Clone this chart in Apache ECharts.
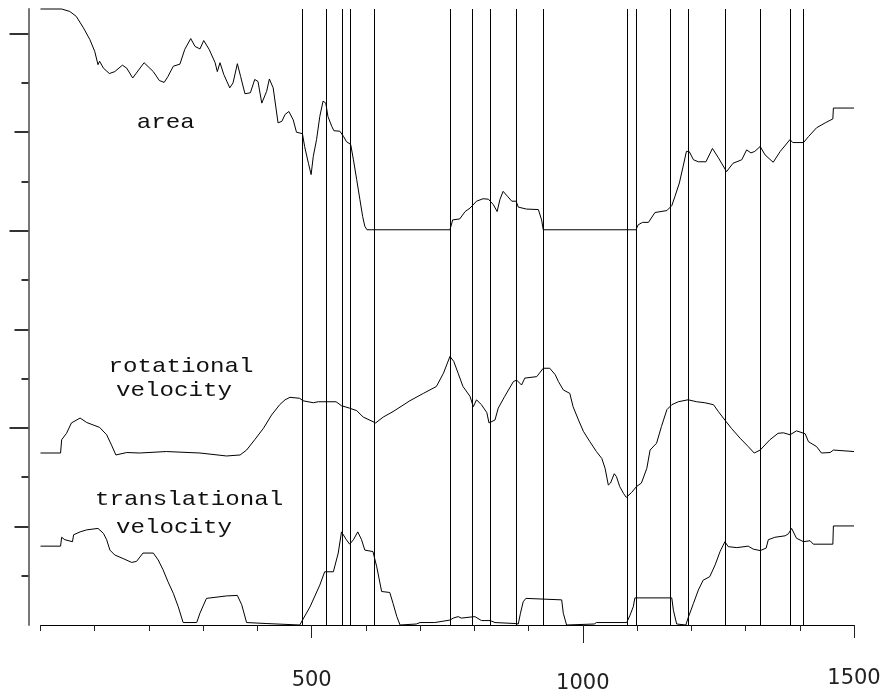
<!DOCTYPE html>
<html>
<head>
<meta charset="utf-8">
<script src="https://cdn.jsdelivr.net/npm/echarts@6.0.0/dist/echarts.min.js"></script>
<style>
    html, body { margin: 0; padding: 0; background: #fff; }
    #main { width: 881px; height: 694px; }
</style>
</head>
<body>
<div id="main"></div>
<script>
// traces, [frame, value]
var areaData = [
    [0, 12.5], [39, 12.5], [54, 12.45], [66, 12.35], [79, 12.12], [91, 11.88], [100, 11.64],
    [106, 11.37], [109, 11.44], [116, 11.30], [127, 11.19], [137, 11.23], [151, 11.36], [159, 11.30],
    [170, 11.10], [191, 11.41], [208, 11.23], [219, 11.05], [228, 11.01], [235, 11.13], [245, 11.34],
    [257, 11.38], [266, 11.68], [277, 11.90], [285, 11.74], [294, 11.69], [301, 11.86], [311, 11.68],
    [322, 11.41], [326, 11.23], [331, 11.41], [338, 11.17], [349, 10.90], [355, 11.00], [363, 11.39],
    [369, 11.13], [377, 10.78], [387, 10.80], [395, 11.07], [401, 11.03], [408, 10.59], [417, 10.83],
    [422, 11.08], [429, 10.90], [438, 10.19], [445, 10.22], [451, 10.36], [458, 10.42], [466, 10.25],
    [472, 10.00], [483, 9.97], [487, 9.71], [494, 9.37], [499, 9.14], [503, 9.51], [509, 9.85],
    [515, 10.32], [521, 10.63], [526, 10.59], [530, 10.32], [537, 10.12], [541, 10.03], [552, 10.02],
    [559, 9.91], [564, 9.81], [572, 9.75], [577, 9.44], [583, 9.04], [589, 8.63], [594, 8.29],
    [598, 8.09], [602, 8.02], [755, 8.02], [760, 8.22], [773, 8.24], [783, 8.39], [792, 8.46],
    [804, 8.60], [816, 8.65], [826, 8.64], [835, 8.53], [842, 8.39], [847, 8.63], [853, 8.80],
    [861, 8.70], [869, 8.60], [877, 8.60], [881, 8.48], [896, 8.44], [918, 8.43], [924, 8.22],
    [927, 8.02], [1098, 8.02], [1102, 8.12], [1110, 8.17], [1121, 8.17], [1133, 8.37], [1155, 8.41],
    [1164, 8.51], [1170, 8.70], [1178, 8.97], [1185, 9.31], [1191, 9.61], [1196, 9.61], [1204, 9.44],
    [1213, 9.40], [1227, 9.40], [1239, 9.67], [1250, 9.48], [1265, 9.20], [1277, 9.37], [1293, 9.44],
    [1302, 9.64], [1310, 9.58], [1317, 9.61], [1327, 9.71], [1336, 9.54], [1351, 9.39], [1364, 9.61],
    [1382, 9.85], [1387, 9.79], [1407, 9.79], [1416, 9.91], [1431, 10.09], [1447, 10.19], [1461, 10.27],
    [1462, 10.49], [1500, 10.49]
];

var rotData = [
    [0, 3.49], [37, 3.49], [39, 3.76], [48, 3.89], [57, 4.10], [73, 4.20], [85, 4.11], [97, 4.06],
    [109, 4.01], [122, 3.86], [131, 3.65], [139, 3.45], [159, 3.50], [183, 3.49], [232, 3.52],
    [294, 3.49], [343, 3.43], [368, 3.45], [380, 3.55], [395, 3.76], [411, 3.99], [426, 4.26],
    [441, 4.47], [451, 4.57], [460, 4.62], [478, 4.60], [484, 4.55], [503, 4.51], [512, 4.53],
    [545, 4.53], [555, 4.45], [570, 4.40], [583, 4.35], [595, 4.22], [618, 4.10], [632, 4.22],
    [650, 4.33], [681, 4.55], [706, 4.70], [730, 4.84], [743, 5.11], [755, 5.45], [762, 5.35],
    [770, 5.11], [779, 4.84], [792, 4.64], [798, 4.43], [804, 4.57], [813, 4.47], [823, 4.31],
    [827, 4.10], [838, 4.16], [844, 4.40], [856, 4.64], [872, 4.94], [878, 4.97], [887, 4.87],
    [893, 5.01], [915, 5.04], [927, 5.21], [939, 5.21], [949, 5.08], [955, 4.94], [964, 4.77],
    [976, 4.70], [982, 4.43], [992, 4.16], [1001, 3.93], [1013, 3.72], [1025, 3.52], [1035, 3.38],
    [1041, 3.18], [1047, 2.84], [1051, 2.88], [1058, 3.07], [1062, 3.01], [1068, 2.81], [1075, 2.67],
    [1080, 2.59], [1090, 2.69], [1099, 2.81], [1108, 2.88], [1118, 3.18], [1124, 3.55], [1136, 3.69],
    [1145, 4.03], [1155, 4.37], [1164, 4.47], [1176, 4.53], [1194, 4.57], [1210, 4.53], [1225, 4.51],
    [1241, 4.47], [1250, 4.33], [1259, 4.20], [1274, 3.99], [1290, 3.79], [1305, 3.62], [1316, 3.49],
    [1327, 3.55], [1345, 3.76], [1360, 3.89], [1370, 3.90], [1382, 3.86], [1394, 3.94], [1410, 3.88],
    [1416, 3.72], [1431, 3.62], [1440, 3.49], [1456, 3.50], [1462, 3.55], [1500, 3.52]
];

var transData = [
    [0, 1.60], [37, 1.60], [39, 1.78], [45, 1.73], [59, 1.69], [61, 1.83], [73, 1.89], [85, 1.93],
    [106, 1.96], [116, 1.86], [122, 1.73], [128, 1.52], [137, 1.42], [152, 1.35], [168, 1.27],
    [177, 1.29], [189, 1.46], [208, 1.46], [217, 1.32], [226, 1.12], [235, 0.88], [245, 0.64],
    [254, 0.37], [263, 0.05], [288, 0.05], [294, 0.24], [306, 0.54], [343, 0.59], [363, 0.60],
    [371, 0.41], [380, 0.05], [416, 0.03], [419, 0], [478, 0], [481, 0.03], [497, 0.37], [515, 0.81],
    [524, 1.08], [540, 1.08], [549, 1.46], [555, 1.89], [564, 1.73], [570, 1.64], [577, 1.73],
    [585, 1.89], [592, 1.73], [598, 1.52], [613, 1.49], [620, 1.18], [629, 0.68], [644, 0.66],
    [650, 0.44], [657, 0.17], [663, 0], [693, 0.02], [700, 0.05], [727, 0.05], [730, 0.09],
    [755, 0.10], [761, 0.14], [770, 0.17], [776, 0.14], [792, 0.16], [801, 0.17], [813, 0.09],
    [829, 0.09], [838, 0.05], [875, 0.03], [881, 0.02], [885, 0.24], [890, 0.47], [895, 0.54],
    [897, 0.51], [961, 0.51], [964, 0.24], [970, 0], [1021, 0.02], [1025, 0.05], [1081, 0.05],
    [1087, 0.20], [1093, 0.37], [1096, 0.55], [1164, 0.55], [1167, 0.30], [1173, 0.02], [1190, 0],
    [1194, 0.14], [1204, 0.44], [1213, 0.71], [1222, 0.91], [1234, 0.98], [1244, 1.22], [1253, 1.49],
    [1262, 1.69], [1268, 1.59], [1284, 1.57], [1305, 1.60], [1314, 1.54], [1327, 1.51], [1338, 1.56],
    [1342, 1.73], [1354, 1.78], [1373, 1.81], [1379, 1.85], [1385, 1.96], [1394, 1.76], [1407, 1.69],
    [1419, 1.71], [1425, 1.64], [1461, 1.64], [1462, 2.01], [1500, 2.01]
];

// frame markers drawn as vertical lines
var cutLines = [482, 526, 557, 572, 615, 755, 797, 830, 877, 927, 1081, 1098, 1161, 1194, 1262, 1327, 1382, 1407];

var xMinorTicks = [0, 100, 200, 300, 400, 600, 700, 800, 900, 1100, 1200, 1300, 1400];
var xMidTicks = [500, 1500];
var xMajorTicks = [1000];
var yMinorTicks = [1, 3, 5, 7, 9, 11];
var yMidTicks = [2, 6, 10];
var yMajorTicks = [4, 8, 12];

var traceNames = ['area', 'rotational', 'velocity', 'translational', 'velocity'];
var traceNameX = [231, 259, 246, 274, 246];
var traceNameY = [10.19, 5.24, 4.75, 2.54, 1.97];

var chart = echarts.init(document.getElementById('main'));

function xAxisCfg(ticks, len, labels, margin, showLine) {
    return {
        type: 'value', min: 0, max: 1500, position: 'bottom', offset: 0,
        axisLine: {show: showLine, onZero: false, lineStyle: {color: '#000', width: 1}},
        axisTick: {show: true, customValues: ticks, length: len, lineStyle: {color: '#222', width: 1}},
        axisLabel: {
            show: labels.length > 0,
            customValues: labels,
            margin: margin,
            fontFamily: 'DejaVu Sans',
            fontSize: 21,
            color: '#222',
            formatter: function (v) { return String(v); }
        },
        splitLine: {show: false}
    };
}

function yAxisCfg(ticks, len, showLine) {
    return {
        type: 'value', min: 0, max: 12.5, position: 'left', offset: 12,
        axisLine: {show: showLine, onZero: false, lineStyle: {color: '#777', width: 2}},
        axisTick: {show: true, customValues: ticks, length: len, lineStyle: {color: '#333', width: 2}},
        axisLabel: {show: false},
        splitLine: {show: false}
    };
}

function trace(data, extra) {
    return Object.assign({
        type: 'line',
        data: data,
        symbol: 'none',
        clip: false,
        animation: false,
        lineStyle: {color: '#000', width: 1}
    }, extra || {});
}

var option = {
    animation: false,
    backgroundColor: '#fff',
    grid: {left: 40.5, right: 27, top: 9, bottom: 69, containLabel: false, outerBoundsMode: 'none'},
    xAxis: [
        xAxisCfg(xMinorTicks, 6, [500], 45, true),
        xAxisCfg(xMidTicks, 13, [1500], 43, false),
        xAxisCfg(xMajorTicks, 18, [1000], 48, false)
    ],
    yAxis: [
        yAxisCfg(yMinorTicks, 7, true),
        yAxisCfg(yMidTicks, 14, false),
        yAxisCfg(yMajorTicks, 19, false)
    ],
    series: [
        trace(areaData, {
            markLine: {
                silent: true,
                symbol: ['none', 'none'],
                animation: false,
                label: {show: false},
                lineStyle: {color: '#000', width: 1, type: 'solid'},
                data: cutLines.map(function (v) { return {xAxis: v}; })
            }
        }),
        trace(rotData),
        trace(transData)
    ]
};

chart.setOption(option);

// trace captions in the plot, placed at data coordinates
var captions = traceNames.map(function (name, i) {
    var p = chart.convertToPixel({xAxisIndex: 0, yAxisIndex: 0}, [traceNameX[i], traceNameY[i]]);
    return {
        type: 'text',
        x: p[0],
        y: p[1],
        scaleX: 1.15,
        style: {
            text: name,
            fontFamily: 'Liberation Mono',
            fontSize: 21,
            fill: '#111',
            align: 'center',
            verticalAlign: 'middle'
        }
    };
});
chart.setOption({graphic: captions});
</script>
</body>
</html>
